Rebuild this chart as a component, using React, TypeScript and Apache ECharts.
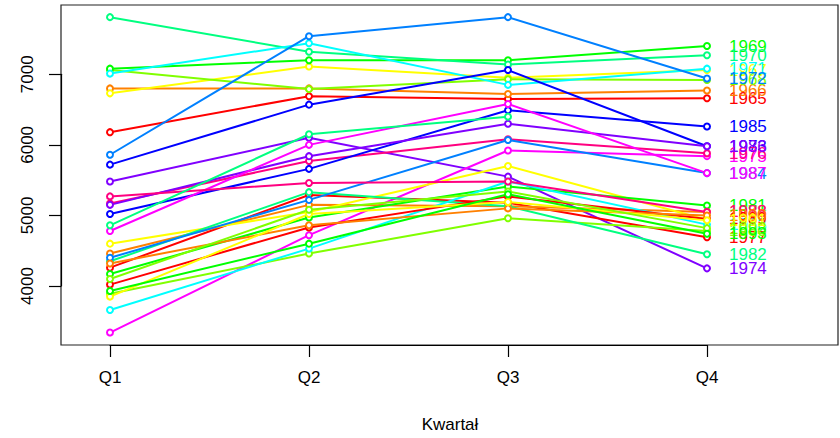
import React, { useEffect, useRef } from "react";
import * as echarts from "echarts";

const quarters = ["Q1", "Q2", "Q3", "Q4"];
const years = [
  1965, 1966, 1967, 1968, 1969, 1970, 1971, 1972, 1973, 1974, 1975, 1976,
  1977, 1978, 1979, 1980, 1981, 1982, 1983, 1984, 1985, 1986, 1987, 1988,
  1989, 1990, 1991, 1992, 1993, 1994,
];
const q1Values = [
  6180, 6800, 6730, 7060, 7080, 7810, 7010, 5860, 5720, 5480, 3340, 5170,
  4260, 4460, 4600, 3890, 4170, 4350, 3660, 4400, 5020, 5150, 4780, 5270,
  4020, 4320, 3850, 4100, 3930, 4860,
];
const q2Values = [
  6690, 6800, 7110, 6790, 7200, 7320, 7440, 7540, 6570, 6100, 4720, 5770,
  5290, 5150, 5050, 4460, 4970, 5330, 4530, 5220, 5660, 5840, 6000, 5460,
  4830, 4860, 5020, 5080, 4600, 6150,
];
const q3Values = [
  6650, 6720, 6950, 6930, 7200, 7140, 6850, 7810, 7060, 5550, 5920, 6080,
  5180, 5130, 5700, 4960, 5410, 5130, 5480, 6070, 6490, 6300, 6580, 5480,
  5270, 5100, 5190, 5340, 5300, 6400,
];
const q4Values: (number | null)[] = [
  6660, 6770, 7060, 6920, 7400, 7270, 7080, 6940, 5980, 4250, 5840, 5880,
  4690, 5050, 4940, 4780, 5140, 4450, 4870, 5600, 6260, 5980, 5600, 5050,
  4950, 5000, 4930, 4820, 4740, null,
];
const yTicks = [4000, 5000, 6000, 7000];
const palette = [
  "#FF0000", "#FF8000", "#FFFF00", "#80FF00", "#00FF00", "#00FF80",
  "#00FFFF", "#0080FF", "#0000FF", "#8000FF", "#FF00FF", "#FF0080",
];

const FONT = "'Liberation Sans', Arial, Helvetica, sans-serif";

export default function App() {
  const ref = useRef<HTMLDivElement>(null);
  useEffect(() => {
    if (!ref.current) return;
    const chart = echarts.init(ref.current, undefined, { renderer: "svg" });
    const series = years.map((yr, i) => {
      const color = palette[(yr - years[0]) % 12];
      const vals = [q1Values[i], q2Values[i], q3Values[i], q4Values[i]];
      const data: any[] = [];
      vals.forEach((v, k) => {
        if (v == null) return;
        const item: any = { value: [k + 1, v] };
        if (k === 3) {
          item.label = {
            show: true,
            position: "right",
            distance: 18,
            formatter: String(yr),
            color,
            fontSize: 17,
            fontFamily: FONT,
          };
        }
        data.push(item);
      });
      return {
        type: "line",
        name: String(yr),
        data,
        clip: false,
        symbol: "emptyCircle",
        symbolSize: 6,
        lineStyle: { color, width: 2 },
        itemStyle: { color, borderColor: color, borderWidth: 1.8 },
        emphasis: { disabled: true },
        z: 2,
      };
    });
    chart.setOption({
      animation: false,
      backgroundColor: "#ffffff",
      grid: { left: 110, right: 133, top: 74.3, bottom: 152 },
      xAxis: {
        type: "value",
        min: 1,
        max: 4,
        interval: 1,
        offset: 59,
        axisLine: { show: true, lineStyle: { color: "#000", width: 1.2 } },
        axisTick: { show: true, inside: false, length: 12, lineStyle: { color: "#000", width: 1.2 } },
        axisLabel: {
          margin: 24,
          fontSize: 17,
          color: "#000",
          fontFamily: FONT,
          formatter: (v: number) => quarters[Math.round(v) - 1] ?? "",
        },
        splitLine: { show: false },
      },
      yAxis: {
        type: "value",
        min: yTicks[0],
        max: yTicks[yTicks.length - 1],
        interval: 1000,
        offset: 49,
        axisLine: { show: true, lineStyle: { color: "#000", width: 1.2 } },
        axisTick: { show: true, inside: false, length: 12, lineStyle: { color: "#000", width: 1.2 } },
        axisLabel: {
          rotate: 90,
          margin: 25,
          fontSize: 17,
          color: "#000",
          fontFamily: FONT,
          formatter: (v: number) => String(v),
        },
        splitLine: { show: false },
      },
      graphic: [
        {
          type: "rect",
          shape: { x: 61, y: 5, width: 777, height: 340 },
          style: { fill: "none", stroke: "#222", lineWidth: 1.2 },
          z: 0,
          silent: true,
        },
        {
          type: "text",
          x: 450,
          y: 424,
          style: {
            text: "Kwartał",
            fill: "#000",
            fontSize: 17,
            fontFamily: FONT,
            textAlign: "center",
            textVerticalAlign: "middle",
          },
        },
      ],
      series,
    });
    return () => chart.dispose();
  }, []);
  return (
    <div
      ref={ref}
      style={{ position: "fixed", left: 0, top: 0, width: 840, height: 438 }}
    />
  );
}
